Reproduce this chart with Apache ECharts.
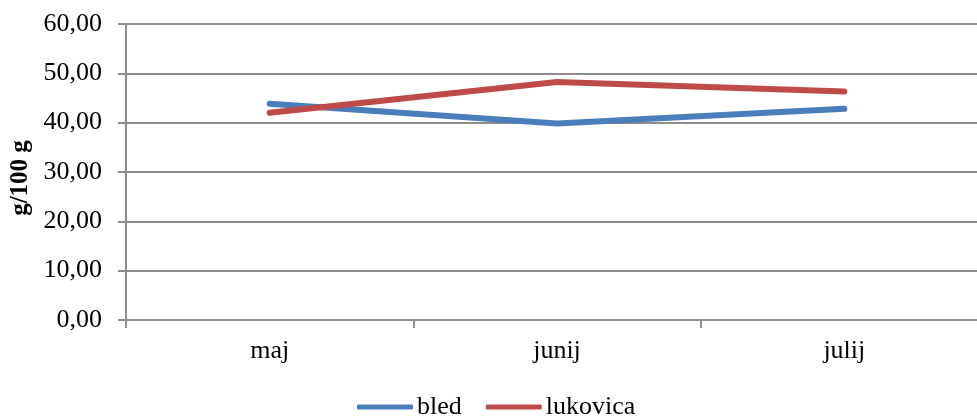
<!DOCTYPE html>
<html>
<head>
<meta charset="utf-8">
<script src="https://cdn.jsdelivr.net/npm/echarts@6/dist/echarts.min.js"></script>
<style>
  html, body { margin: 0; padding: 0; background: #fff; }
  #chart { width: 977px; height: 418px; }
</style>
</head>
<body>
<div id="chart"></div>
<script>
// Monthly content (g/100 g) per site
const months = ['maj', 'junij', 'julij'];
const bled = [43.85, 39.85, 42.8];
const lukovica = [42.0, 48.25, 46.3];
const yTicks = { min: 0, max: 60, interval: 10 };

const FONT = '"Liberation Serif", "Times New Roman", serif';
const GRAY = '#8c8c8c';

const chart = echarts.init(document.getElementById('chart'));
chart.setOption({
  animation: false,
  textStyle: { fontFamily: FONT },
  grid: { left: 126, top: 24, width: 862, height: 296, containLabel: false, outerBoundsMode: 'none' },
  legend: {
    top: 389,
    left: 352,
    itemWidth: 56,
    itemHeight: 5,
    itemGap: 24,
    icon: 'roundRect',
    textStyle: { fontFamily: FONT, fontSize: 26, color: '#000', padding: [0, 0, 0, -1] },
    data: ['bled', 'lukovica']
  },
  xAxis: {
    type: 'category',
    data: months,
    boundaryGap: true,
    axisLine: { lineStyle: { color: GRAY, width: 2 } },
    axisTick: { show: true, length: 8, lineStyle: { color: GRAY, width: 2 } },
    axisLabel: { fontFamily: FONT, fontSize: 26, color: '#000', margin: 18 }
  },
  yAxis: {
    type: 'value',
    min: yTicks.min,
    max: yTicks.max,
    interval: yTicks.interval,
    name: 'g/100 g',
    nameLocation: 'middle',
    nameRotate: 90,
    nameGap: 91,
    nameTextStyle: { fontFamily: FONT, fontSize: 25, fontWeight: 'bold', color: '#000', padding: [0, 12, 0, 0] },
    axisLine: { show: true, lineStyle: { color: GRAY, width: 2 } },
    axisTick: { show: true, length: 8, lineStyle: { color: GRAY, width: 2 } },
    splitLine: { lineStyle: { color: GRAY, width: 2 } },
    axisLabel: {
      fontFamily: FONT, fontSize: 26, color: '#000', margin: 24,
      formatter: v => v.toFixed(2).replace('.', ',')
    }
  },
  series: [
    {
      name: 'bled', type: 'line', data: bled, showSymbol: false, symbol: 'none',
      itemStyle: { color: '#4a7ebb' },
      lineStyle: { color: '#4a7ebb', width: 6, cap: 'round', join: 'round' }
    },
    {
      name: 'lukovica', type: 'line', data: lukovica, showSymbol: false, symbol: 'none',
      itemStyle: { color: '#be4b48' },
      lineStyle: { color: '#be4b48', width: 6, cap: 'round', join: 'round' }
    }
  ]
});
</script>
</body>
</html>
